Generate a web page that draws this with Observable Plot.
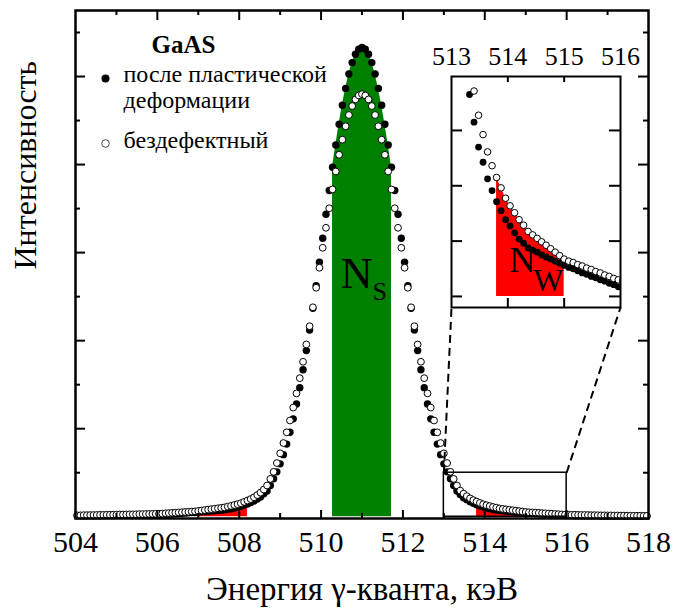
<!DOCTYPE html>
<html><head><meta charset="utf-8">
<script src="https://cdn.jsdelivr.net/npm/d3@7"></script>
<script src="https://cdn.jsdelivr.net/npm/@observablehq/plot@0.6"></script>
<style>
body{margin:0;background:#fff;}
#wrap{position:relative;width:676px;height:613px;}
#wrap svg{position:absolute;font-family:Liberation Serif, Times New Roman, serif !important;}
#wrap svg text{font-family:Liberation Serif, Times New Roman, serif !important;}
</style></head><body><div id="wrap"></div>
<script>
// ---------- data ----------
const energy = [
504.04,504.12,504.20,504.28,504.36,504.44,504.52,504.60,504.68,504.76,504.84,504.92,505.00,505.08,505.16,505.24,505.32,505.40,505.48,505.56,505.64,505.72,505.80,505.88,505.96,
506.04,506.12,506.20,506.28,506.36,506.44,506.52,506.60,506.68,506.76,506.84,506.92,507.00,507.08,507.16,507.24,507.32,507.40,507.48,507.56,507.64,507.72,507.80,507.88,507.96,
508.04,508.12,508.20,508.28,508.36,508.44,508.52,508.60,508.68,508.76,508.84,508.92,509.00,509.08,509.16,509.24,509.32,509.40,509.48,509.56,509.64,509.72,509.80,509.88,509.96,
510.04,510.12,510.20,510.28,510.36,510.44,510.52,510.60,510.68,510.76,510.84,510.92,511.00,511.08,511.16,511.24,511.32,511.40,511.48,511.56,511.64,511.72,511.80,511.88,511.96,
512.04,512.12,512.20,512.28,512.36,512.44,512.52,512.60,512.68,512.76,512.84,512.92,513.00,513.08,513.16,513.24,513.32,513.40,513.48,513.56,513.64,513.72,513.80,513.88,513.96,
514.04,514.12,514.20,514.28,514.36,514.44,514.52,514.60,514.68,514.76,514.84,514.92,515.00,515.08,515.16,515.24,515.32,515.40,515.48,515.56,515.64,515.72,515.80,515.88,515.96,
516.04,516.12,516.20,516.28,516.36,516.44,516.52,516.60,516.68,516.76,516.84,516.92,517.00,517.08,517.16,517.24,517.32,517.40,517.48,517.56,517.64,517.72,517.80,517.88,517.96];

// after plastic deformation (filled dots)
const deformed = [
0.010,0.010,0.010,0.011,0.012,0.012,0.012,0.012,0.013,0.014,0.014,0.014,0.015,0.015,0.015,0.016,0.016,0.017,0.018,0.018,0.018,0.019,0.019,0.020,0.020,
0.021,0.024,0.026,0.029,0.031,0.034,0.036,0.039,0.041,0.044,0.047,0.049,0.053,0.056,0.059,0.062,0.065,0.068,0.072,0.075,0.078,0.085,0.091,0.100,0.110,0.119,0.132,0.145,0.161,0.178,0.202,0.224,0.260,
0.292,0.355,0.431,0.510,0.601,0.705,0.825,0.960,1.112,1.281,1.466,1.669,1.887,2.121,2.367,2.625,2.891,3.163,3.436,3.706,3.970,4.222,4.458,4.674,4.865,5.028,5.158,5.253,5.311,
5.330,
5.311,5.253,5.158,5.028,4.865,4.674,4.458,4.222,3.970,3.706,3.436,3.163,2.891,2.625,2.367,2.121,1.887,1.669,1.466,1.281,1.112,0.960,0.825,0.705,0.601,0.510,0.431,0.355,0.292,
0.252,0.216,0.194,0.170,0.153,0.137,0.124,0.111,0.102,0.092,0.083,0.077,0.070,0.067,0.064,0.060,0.057,0.054,0.051,0.048,0.045,0.042,0.040,0.037,0.034,0.032,0.029,0.027,0.024,0.022,0.019,0.017,0.014,
0.013,0.013,0.012,0.012,0.011,0.011,0.011,0.010,0.010,0.010,0.009,0.009,0.009,0.008,0.008,0.008,0.008,0.007,0.007,0.007,0.007,0.006,0.006,0.006,0.006];

// defect-free (open circles)
const defectFree = [
0.016,0.016,0.018,0.018,0.019,0.019,0.020,0.021,0.021,0.022,0.022,0.023,0.023,0.025,0.025,0.026,0.027,0.027,0.028,0.030,0.030,0.031,0.032,0.032,0.033,
0.034,0.036,0.039,0.041,0.044,0.046,0.049,0.051,0.054,0.056,0.059,0.061,0.066,0.071,0.076,0.081,0.086,0.091,0.096,0.101,0.106,0.115,0.123,0.133,0.143,0.154,0.169,0.184,0.201,0.221,0.246,0.274,0.309,
0.355,0.430,0.510,0.610,0.720,0.837,0.959,1.093,1.240,1.401,1.574,1.760,1.957,2.164,2.379,2.601,2.828,3.055,3.282,3.504,3.718,3.922,4.111,4.283,4.435,4.563,4.665,4.740,4.785,
4.800,
4.785,4.740,4.665,4.563,4.435,4.283,4.111,3.922,3.718,3.504,3.282,3.055,2.828,2.601,2.379,2.164,1.957,1.760,1.574,1.401,1.240,1.093,0.959,0.837,0.720,0.610,0.510,0.430,0.355,
0.297,0.262,0.234,0.209,0.189,0.172,0.157,0.142,0.131,0.121,0.111,0.103,0.094,0.089,0.084,0.079,0.074,0.069,0.064,0.059,0.054,0.051,0.049,0.046,0.044,0.041,0.039,0.036,0.034,0.031,0.029,0.026,0.024,
0.023,0.022,0.022,0.021,0.020,0.020,0.019,0.018,0.018,0.017,0.016,0.016,0.015,0.015,0.014,0.014,0.013,0.013,0.012,0.012,0.011,0.011,0.011,0.010,0.010];

const sWindow = [510.26, 511.74];
const wWindows = [[507.0, 508.24], [513.76, 515.0]];
const zoomBox = {x: [513, 516], y: [0, 0.5]};

const xTickLabels = [504, 506, 508, 510, 512, 514, 516, 518];
const xTicksMajor = [506, 508, 510, 512, 514, 516];
const xTicksMinor = [505, 507, 509, 511, 513, 515, 517];
const yTicksMajor = [1, 2, 3, 4, 5];
const yTicksMinor = [0.5, 1.5, 2.5, 3.5, 4.5, 5.5];

const insetXLabels = [513, 514, 515, 516];
const insetXTicks = [514, 515];
const insetYTicks = [0, 0.08, 0.16, 0.24];

const material = "GaAS";
const legendLines = ["после пластической", "деформации", "бездефектный"];
const xTitle = "Энергия γ-кванта, кэВ";
const yTitle = "Интенсивность";

// ---------- layout ----------
const FONT = "Liberation Serif, Times New Roman, serif";
const W = 676, H = 613;
const M = {top: 10, right: 28, bottom: 95, left: 75};
const xDomain = [504, 518], yDomain = [-0.02, 5.75];
const pxX = (W - M.left - M.right) / (xDomain[1] - xDomain[0]);
const pxY = (H - M.top - M.bottom) / (yDomain[1] - yDomain[0]);

const IN = {left: 400, top: 0, width: 260, height: 320, mTop: 76, mRight: 40, mBottom: 13, mLeft: 51};
const ixDomain = [513, 516], iyDomain = [-0.016, 0.318];
const ipxX = (IN.width - IN.mLeft - IN.mRight) / (ixDomain[1] - ixDomain[0]);
const ipxY = (IN.height - IN.mTop - IN.mBottom) / (iyDomain[1] - iyDomain[0]);

if (deformed.length !== energy.length || defectFree.length !== energy.length) {
  document.body.append(`length mismatch ${energy.length} ${deformed.length} ${defectFree.length}`);
}

const rows = energy.map((e, i) => ({e, d: deformed[i], f: defectFree[i], top: Math.max(deformed[i], defectFree[i])}));
const inWin = ([a, b]) => rows.filter(r => r.e >= a - 1e-9 && r.e <= b + 1e-9);

const sx = Plot.scale({x: {domain: xDomain, range: [M.left, W - M.right]}});
const sy = Plot.scale({y: {domain: yDomain, range: [H - M.bottom, M.top]}});
const insetFrame = {
  left: IN.left + IN.mLeft, right: IN.left + IN.width - IN.mRight,
  bottom: IN.top + IN.height - IN.mBottom
};
const links = [
  {x1: zoomBox.x[0], y1: zoomBox.y[1], x2: sx.invert(insetFrame.left), y2: sy.invert(insetFrame.bottom)},
  {x1: zoomBox.x[1], y1: zoomBox.y[1], x2: sx.invert(insetFrame.right), y2: sy.invert(insetFrame.bottom)}
];

const tick = {stroke: "black", strokeWidth: 2};
const txt = {fill: "black", fontFamily: FONT};
const sMid = (sWindow[0] + sWindow[1]) / 2;

const main = Plot.plot({
  width: W, height: H,
  marginTop: M.top, marginRight: M.right, marginBottom: M.bottom, marginLeft: M.left,
  x: {domain: xDomain, axis: null},
  y: {domain: yDomain, axis: null},
  style: {fontFamily: FONT, background: "white", overflow: "visible", color: "black"},
  marks: [
    Plot.areaY(inWin(sWindow), {x: "e", y: "top", fill: "#008000"}),
    ...wWindows.map(w => Plot.areaY(inWin(w), {x: "e", y: "top", fill: "#ff0000"})),
    Plot.dot(rows, {x: "e", y: "d", r: 3.7, fill: "black"}),
    Plot.dot(rows, {x: "e", y: "f", r: 3.4, fill: "white", stroke: "black", strokeWidth: 1}),
    Plot.rect([zoomBox], {x1: d => d.x[0], x2: d => d.x[1], y1: d => d.y[0], y2: d => d.y[1], fill: "none", stroke: "black", strokeWidth: 1.5}),
    Plot.link(links, {x1: "x1", y1: "y1", x2: "x2", y2: "y2", stroke: "black", strokeWidth: 2, strokeDasharray: "8,5"}),
    Plot.frame({stroke: "black", strokeWidth: 2.5}),
    Plot.ruleX(xTicksMajor, {x: d => d, y1: yDomain[0], y2: yDomain[0] + 8 / pxY, ...tick}),
    Plot.ruleX(xTicksMinor, {x: d => d, y1: yDomain[0], y2: yDomain[0] + 5 / pxY, ...tick}),
    Plot.ruleX(xTicksMajor, {x: d => d, y1: yDomain[1], y2: yDomain[1] - 10 / pxY, ...tick}),
    Plot.ruleX(xTicksMinor, {x: d => d, y1: yDomain[1], y2: yDomain[1] - 5 / pxY, ...tick}),
    Plot.ruleY(yTicksMajor, {y: d => d, x1: xDomain[0], x2: xDomain[0] + 10 / pxX, ...tick}),
    Plot.ruleY(yTicksMinor, {y: d => d, x1: xDomain[0], x2: xDomain[0] + 5 / pxX, ...tick}),
    Plot.ruleY(yTicksMajor, {y: d => d, x1: xDomain[1], x2: xDomain[1] - 10 / pxX, ...tick}),
    Plot.ruleY(yTicksMinor, {y: d => d, x1: xDomain[1], x2: xDomain[1] - 5 / pxX, ...tick}),
    Plot.text(xTickLabels, {x: d => d, frameAnchor: "bottom", dy: 33, text: d => String(d), fontSize: 30, ...txt}),
    Plot.text([xTitle], {frameAnchor: "bottom", dy: 81, fontSize: 33, ...txt}),
    Plot.text([yTitle], {frameAnchor: "left", rotate: -90, dx: -50, dy: 5, fontSize: 32, ...txt}),
    // legend
    Plot.text([material], {frameAnchor: "top-left", dx: 108, dy: 25, lineAnchor: "top", textAnchor: "middle", fontWeight: "bold", fontSize: 25, ...txt}),
    Plot.dot([0], {frameAnchor: "top-left", dx: 30, dy: 68, r: 4, fill: "black"}),
    Plot.dot([0], {frameAnchor: "top-left", dx: 30, dy: 133, r: 3.8, fill: "white", stroke: "#333", strokeWidth: 0.9}),
    Plot.text([legendLines[0]], {frameAnchor: "top-left", dx: 48, dy: 71, lineAnchor: "bottom", textAnchor: "start", fontSize: 24, ...txt}),
    Plot.text([legendLines[1]], {frameAnchor: "top-left", dx: 48, dy: 97, lineAnchor: "bottom", textAnchor: "start", fontSize: 24, ...txt}),
    Plot.text([legendLines[2]], {frameAnchor: "top-left", dx: 48, dy: 137, lineAnchor: "bottom", textAnchor: "start", fontSize: 24, ...txt}),
    // N_S
    Plot.text(["N"], {x: () => sMid, frameAnchor: "bottom", dx: 10.5, dy: -231, textAnchor: "end", fontSize: 44, ...txt}),
    Plot.text(["S"], {x: () => sMid, frameAnchor: "bottom", dx: 10.5, dy: -219, textAnchor: "start", fontSize: 26, ...txt})
  ]
});

const wMid = (wWindows[1][0] + wWindows[1][1]) / 2;
const inset = Plot.plot({
  width: IN.width, height: IN.height,
  marginTop: IN.mTop, marginRight: IN.mRight, marginBottom: IN.mBottom, marginLeft: IN.mLeft,
  x: {domain: ixDomain, axis: null},
  y: {domain: iyDomain, axis: null},
  style: {fontFamily: FONT, background: "transparent", overflow: "visible", color: "black"},
  marks: [
    Plot.frame({fill: "white"}),
    Plot.areaY(inWin(wWindows[1]), {x: "e", y: "top", fill: "#ff0000", clip: true}),
    Plot.dot(rows, {x: "e", y: "d", r: 3.4, fill: "black", clip: true}),
    Plot.dot(rows, {x: "e", y: "f", r: 3.3, fill: "white", stroke: "black", strokeWidth: 1, clip: true}),
    Plot.frame({stroke: "black", strokeWidth: 2}),
    Plot.ruleX(insetXTicks, {x: d => d, y1: iyDomain[0], y2: iyDomain[0] + 9 / ipxY, ...tick}),
    Plot.ruleX(insetXTicks, {x: d => d, y1: iyDomain[1], y2: iyDomain[1] - 6 / ipxY, ...tick}),
    Plot.ruleY(insetYTicks, {y: d => d, x1: ixDomain[0], x2: ixDomain[0] + 11 / ipxX, ...tick}),
    Plot.ruleY(insetYTicks, {y: d => d, x1: ixDomain[1], x2: ixDomain[1] - 11 / ipxX, ...tick}),
    Plot.text(insetXLabels, {x: d => d, frameAnchor: "top", dy: -30, text: d => String(d), fontSize: 26, ...txt}),
    Plot.text(["N"], {x: () => wMid, frameAnchor: "bottom", dx: 6, dy: -35.5, textAnchor: "end", fontSize: 36, ...txt}),
    Plot.text(["W"], {x: () => wMid, frameAnchor: "bottom", dx: 4, dy: -17, textAnchor: "start", fontSize: 32, ...txt})
  ]
});
inset.style.left = IN.left + "px";
inset.style.top = IN.top + "px";

const wrap = document.getElementById("wrap");
wrap.append(main, inset);
</script>
</body></html>
